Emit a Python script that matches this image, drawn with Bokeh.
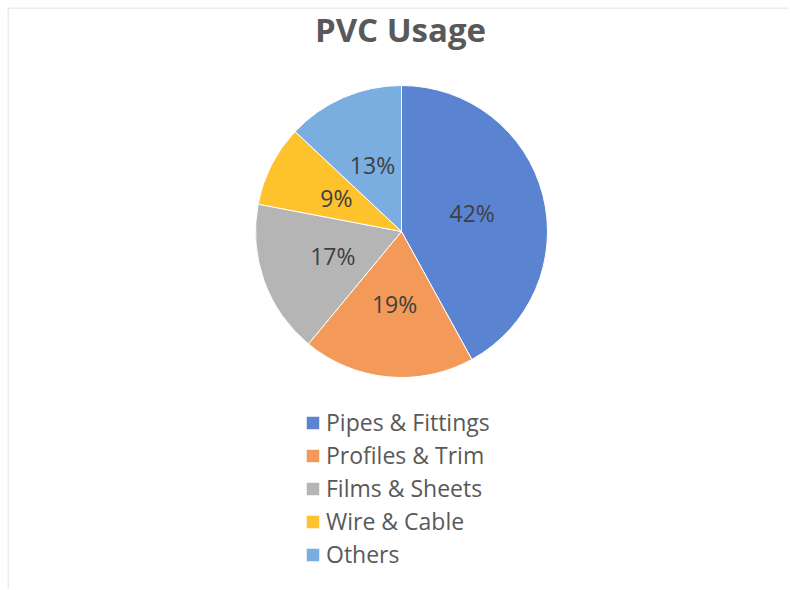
import numpy as np
from bokeh.plotting import figure
from bokeh.models import ColumnDataSource, Range1d, Legend, LegendItem, Label, Span
from bokeh.core.properties import value
from bokeh.embed import file_html
from bokeh.resources import INLINE

# ---- data ----
categories = ["Pipes & Fittings", "Profiles & Trim", "Films & Sheets", "Wire & Cable", "Others"]
shares = [42, 19, 17, 9, 13]
colors = ["#5a84d2", "#f39a5a", "#b5b5b5", "#fdc22c", "#7aade0"]
title_text = "PVC Usage"

W, H = 782, 582
FONT = "Open Sans"

p = figure(width=W, height=H, output_backend="svg", toolbar_location=None,
           x_range=Range1d(0, W), y_range=Range1d(0, H),
           x_axis_type=None, y_axis_type=None, min_border=0)
p.margin = (7, 0, 0, 7)
p.grid.visible = False
p.outline_line_color = None
p.background_fill_color = "white"
p.border_fill_color = "white"

# chart-area border (left and top edges visible in the reference)
p.add_layout(Span(location=0.5, dimension="height", line_color="#d9d9d9", line_width=1))
p.add_layout(Span(location=H - 0.5, dimension="width", line_color="#d9d9d9", line_width=1))

cx, cy, R = 394, 358, 146

vals = np.array(shares, dtype=float)
frac = vals / vals.sum()
cum = np.concatenate([[0], np.cumsum(frac)])
start = np.pi / 2 - 2 * np.pi * cum[:-1]
end = np.pi / 2 - 2 * np.pi * cum[1:]
mid = (start + end) / 2

src = ColumnDataSource(dict(cat=categories, start=start, end=end, color=colors,
                            lx=cx + 0.5 * R * np.cos(mid), ly=cy + 0.5 * R * np.sin(mid),
                            lab=[f"{v}%" for v in shares]))

w = p.wedge(x=cx, y=cy, radius=R, start_angle="start", end_angle="end",
            direction="clock", fill_color="color", line_color="white", line_width=1,
            source=src)

p.text(x="lx", y="ly", text="lab", source=src, text_align="center",
       text_baseline="middle", text_font=value(FONT), text_font_size="23px",
       text_color="#404040")

p.add_layout(Label(x=393, y=H - 22, text=title_text, text_align="center",
                   text_baseline="middle", text_font=FONT, text_font_size="33px",
                   text_font_style="bold", text_color="#595959"))

items = [LegendItem(label=c, renderers=[w], index=i) for i, c in enumerate(categories)]
legend = Legend(items=items, location=(297, 19), orientation="vertical",
                border_line_color=None, background_fill_alpha=0,
                padding=0, margin=0, spacing=1, label_height=25,
                glyph_width=17, glyph_height=17, label_standoff=5,
                label_text_font=FONT, label_text_font_size="23px",
                label_text_color="#595959", label_text_baseline="middle")
p.add_layout(legend)

open("out.html", "w").write(file_html(p, INLINE))
